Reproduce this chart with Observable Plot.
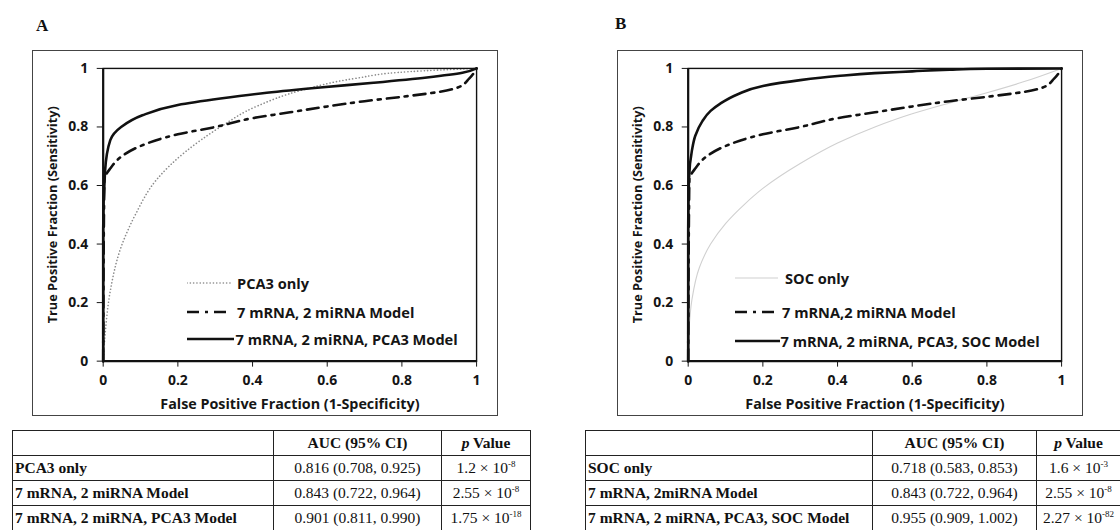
<!DOCTYPE html>
<html><head><meta charset="utf-8">
<script src="https://cdn.jsdelivr.net/npm/d3@7"></script>
<script src="https://cdn.jsdelivr.net/npm/@observablehq/plot@0.6"></script>
<style>
html,body{margin:0;padding:0}
body{width:1120px;height:530px;overflow:hidden;background:#fff;position:relative;font-family:"Open Sans",sans-serif}
.plabel{position:absolute;font-family:"Liberation Serif",serif;font-weight:bold;font-size:17px;color:#111;line-height:1}
.box{position:absolute;border:1.5px solid #444;box-sizing:border-box;width:466px;height:366px;top:50px}
.box svg{position:absolute;left:-1.5px;top:-1.5px}
.legend{position:absolute;font-family:"Open Sans",sans-serif;font-weight:bold;font-size:14.6px;color:#151515}
.legend .row{position:absolute;display:flex;align-items:center;white-space:nowrap;height:18px}
.legend svg{display:block}
table{position:absolute;top:430px;border-collapse:collapse;table-layout:fixed;font-family:"Liberation Serif",serif;font-size:15.5px;color:#111}
td{border:1.5px solid #222;height:25px;padding:0 2px;box-sizing:border-box;white-space:nowrap;line-height:1;overflow:hidden}
td.lab{font-weight:bold;text-align:left}
td.num{text-align:center}
td.hd{font-weight:bold;text-align:center}
sup{font-size:9px;vertical-align:6px}
</style>
</head><body>
<script>
// ---------- data ----------
const xTicks = [0, 0.2, 0.4, 0.6, 0.8, 1];
const yTicks = [0, 0.2, 0.4, 0.6, 0.8, 1];
const xTitle = "False Positive Fraction (1-Specificity)";
const yTitle = "True Positive Fraction (Sensitivity)";

// Panel A series
const pca3OnlyFpf = [0, 0.005, 0.019, 0.048, 0.086, 0.143, 0.22, 0.314, 0.41, 0.533, 0.676, 0.82, 1];
const pca3OnlyTpf = [0, 0.09, 0.24, 0.39, 0.50, 0.62, 0.715, 0.80, 0.87, 0.926, 0.966, 0.989, 1];

// 7 mRNA, 2 miRNA model (same model shown in A and B)
const mrnaFpf = [0, 0.003, 0.02, 0.05, 0.1, 0.2, 0.3, 0.4, 0.5, 0.6, 0.7, 0.8, 0.9, 0.95, 0.98, 1];
const mrnaTpf = [0, 0.62, 0.66, 0.70, 0.735, 0.775, 0.80, 0.83, 0.85, 0.87, 0.888, 0.903, 0.92, 0.935, 0.965, 1];

const pca3ModelFpf = [0, 0, 0.005, 0.019, 0.048, 0.105, 0.2, 0.314, 0.438, 0.581, 0.724, 0.867, 0.962, 1];
const pca3ModelTpf = [0, 0.45, 0.65, 0.755, 0.80, 0.84, 0.875, 0.897, 0.917, 0.935, 0.951, 0.969, 0.985, 1];

// Panel B series
const socOnlyFpf = [0, 0.002, 0.01, 0.03, 0.06, 0.1, 0.15, 0.2, 0.3, 0.4, 0.5, 0.6, 0.7, 0.8, 0.9, 1];
const socOnlyTpf = [0, 0.10, 0.21, 0.32, 0.40, 0.47, 0.535, 0.59, 0.675, 0.745, 0.80, 0.845, 0.882, 0.917, 0.955, 1];

const socModelFpf = [0, 0, 0.002, 0.01, 0.019, 0.038, 0.06, 0.086, 0.133, 0.2, 0.3, 0.4, 0.5, 0.6, 0.7, 0.8, 1];
const socModelTpf = [0, 0.45, 0.62, 0.72, 0.77, 0.82, 0.855, 0.88, 0.912, 0.94, 0.96, 0.974, 0.984, 0.99, 0.996, 0.999, 1];

const legendA = ["PCA3 only", "7 mRNA, 2 miRNA Model", "7 mRNA, 2 miRNA, PCA3 Model"];
const legendB = ["SOC only", "7 mRNA,2 miRNA Model", "7 mRNA, 2 miRNA, PCA3, SOC Model"];

// Tables
const tableHeader = ["", "AUC (95% CI)", "p Value"];
const tableALabels = ["PCA3 only", "7 mRNA, 2 miRNA Model", "7 mRNA, 2 miRNA, PCA3 Model"];
const tableAAuc = ["0.816 (0.708, 0.925)", "0.843 (0.722, 0.964)", "0.901 (0.811, 0.990)"];
const tableAPMant = ["1.2", "2.55", "1.75"];
const tableAPExp = ["-8", "-8", "-18"];
const tableBLabels = ["SOC only", "7 mRNA, 2miRNA Model", "7 mRNA, 2 miRNA, PCA3, SOC Model"];
const tableBAuc = ["0.718 (0.583, 0.853)", "0.843 (0.722, 0.964)", "0.955 (0.909, 1.002)"];
const tableBPMant = ["1.6", "2.55", "2.27"];
const tableBPExp = ["-3", "-8", "-82"];

// ---------- styles ----------
const styleDotted = {stroke: "#8a8a8a", strokeWidth: 1.6, strokeDasharray: "0.1,3.2", strokeLinecap: "round"};
const styleLight = {stroke: "#d0d0d0", strokeWidth: 1.1};
const styleDashDot = {stroke: "#111", strokeWidth: 2.6, strokeDasharray: "12,6,3,6"};
const styleSolid = {stroke: "#111", strokeWidth: 2.6};

function rows(xs, ys) { return xs.map((x, i) => ({x, y: ys[i]})); }

function makePanel(series) {
  return Plot.plot({
    width: 466, height: 366,
    marginLeft: 71, marginRight: 20, marginTop: 18, marginBottom: 54,
    style: {fontFamily: "'Open Sans', sans-serif", fontWeight: "bold", fontSize: "14px", color: "#151515", background: "transparent", overflow: "visible"},
    x: {domain: [0, 1], ticks: xTicks, tickFormat: d3.format("~g"), tickSize: 6, tickPadding: 8, label: null},
    y: {domain: [0, 1], ticks: yTicks, tickFormat: d3.format("~g"), tickSize: 6, tickPadding: 9, label: null},
    marks: [
      ...series.map(s => Plot.line(rows(s.x, s.y), {x: "x", y: "y", curve: "monotone-y", ...s.style})),
      Plot.frame({stroke: "#111", strokeWidth: 1.4}),
      Plot.ruleX([0], {stroke: "#111", strokeWidth: 2.2}),
      Plot.ruleY([0], {stroke: "#111", strokeWidth: 2.2}),
      Plot.text([xTitle], {frameAnchor: "bottom", textAnchor: "middle", lineAnchor: "middle", dy: 43, fontSize: 14.4, fontWeight: "bold"}),
      Plot.text([yTitle], {frameAnchor: "left", textAnchor: "middle", lineAnchor: "middle", dx: -51, rotate: -90, fontSize: 12.8, fontWeight: "bold"})
    ]
  });
}

function addBox(left, svg) {
  const d = document.createElement("div");
  d.className = "box";
  d.style.left = left + "px";
  d.appendChild(svg);
  document.body.appendChild(d);
}

function addLabel(text, left, top) {
  const d = document.createElement("div");
  d.className = "plabel";
  d.textContent = text;
  d.style.left = left + "px"; d.style.top = top + "px";
  document.body.appendChild(d);
}

function addLegend(labels, styles, left, tops, lineWidths, gaps) {
  const lg = document.createElement("div");
  lg.className = "legend";
  document.body.appendChild(lg);
  labels.forEach((lab, i) => {
    const r = document.createElement("div");
    r.className = "row";
    r.style.left = left + "px";
    r.style.top = (tops[i] - 9) + "px";
    const w = lineWidths[i];
    const st = styles[i];
    r.innerHTML = `<svg width="${w}" height="10"><line x1="0" x2="${w}" y1="5" y2="5" stroke="${st.stroke}" stroke-width="${st.strokeWidth}" ${st.strokeDasharray ? `stroke-dasharray="${st.strokeDasharray}"` : ""} ${st.strokeLinecap ? `stroke-linecap="${st.strokeLinecap}"` : ""}/></svg><span style="margin-left:${gaps[i]}px">${lab}</span>`;
    lg.appendChild(r);
  });
}

function addTable(left, widths, labels, auc, pm, pe) {
  const t = document.createElement("table");
  t.style.left = left + "px";
  t.style.width = widths.reduce((a, b) => a + b, 0) + "px";
  let html = "<colgroup>" + widths.map(w => `<col style="width:${w}px">`).join("") + "</colgroup>";
  html += `<tr><td class="hd">${tableHeader[0]}</td><td class="hd">${tableHeader[1]}</td><td class="hd"><i>p</i> Value</td></tr>`;
  labels.forEach((lab, i) => {
    html += `<tr><td class="lab">${lab}</td><td class="num">${auc[i]}</td><td class="num">${pm[i]} × 10<sup>${pe[i]}</sup></td></tr>`;
  });
  t.innerHTML = html;
  document.body.appendChild(t);
}

// ---------- panel A ----------
addLabel("A", 36, 17);
addBox(32, makePanel([
  {x: pca3OnlyFpf, y: pca3OnlyTpf, style: styleDotted},
  {x: mrnaFpf, y: mrnaTpf, style: styleDashDot},
  {x: pca3ModelFpf, y: pca3ModelTpf, style: styleSolid}
]));
addLegend(legendA, [styleDotted, styleDashDot, styleSolid], 187, [283, 312, 339], [45, 40, 47], [5, 10, 1.5]);

// ---------- panel B ----------
addLabel("B", 615, 15);
addBox(617, makePanel([
  {x: socOnlyFpf, y: socOnlyTpf, style: styleLight},
  {x: mrnaFpf, y: mrnaTpf, style: styleDashDot},
  {x: socModelFpf, y: socModelTpf, style: styleSolid}
]));
addLegend(legendB, [styleLight, styleDashDot, styleSolid], 735, [278, 311.5, 340.5], [43, 42, 45], [7, 5, 0.5]);

// ---------- tables ----------
addTable(12, [261, 168, 89], tableALabels, tableAAuc, tableAPMant, tableAPExp);
addTable(585, [287, 164, 84], tableBLabels, tableBAuc, tableBPMant, tableBPExp);
</script>
</body></html>
